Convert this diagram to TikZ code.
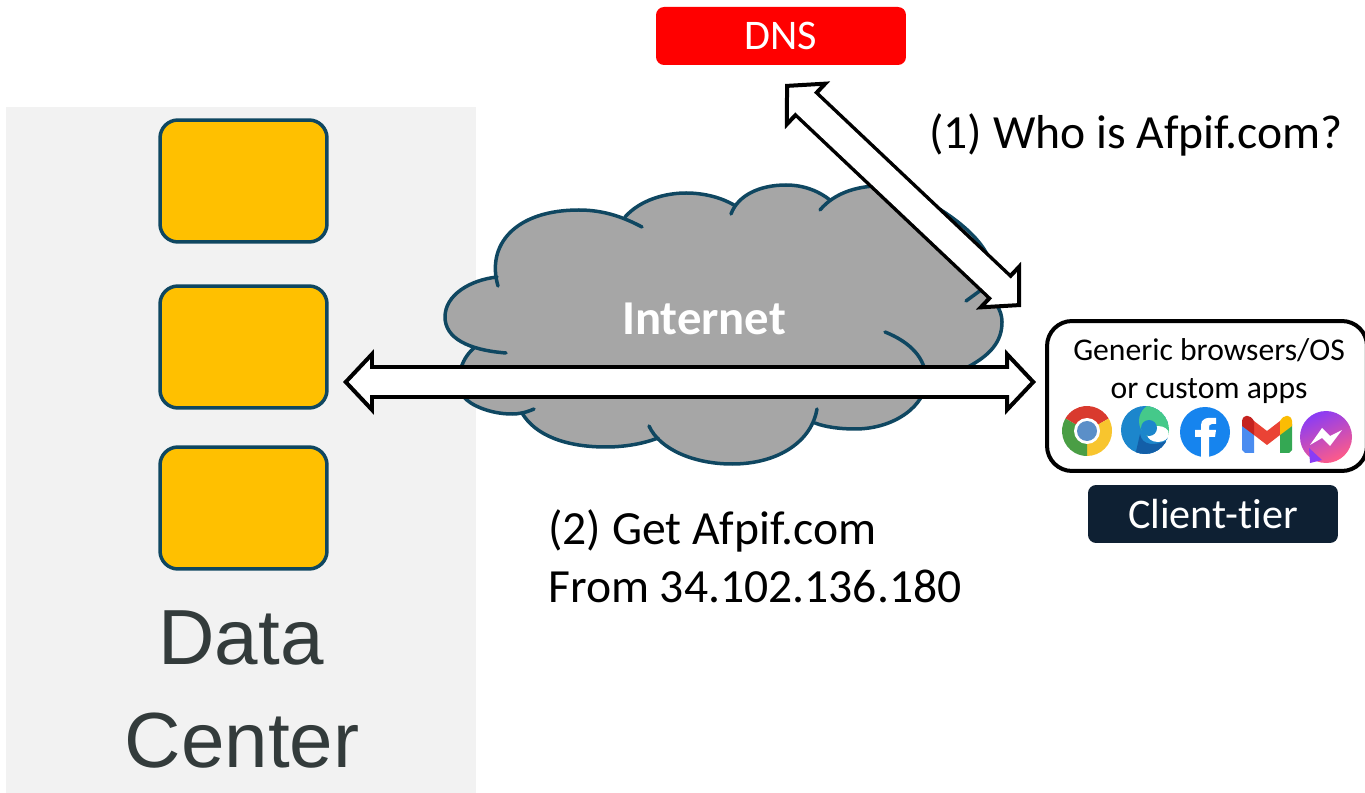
\documentclass[tikz,border=0pt]{standalone}
\usepackage{fontspec}
\setmainfont{Carlito}[Ligatures=CommonOff]
\newfontfamily\panelfont{Liberation Sans}
\usepackage{xcolor}
\usetikzlibrary{positioning,arrows.meta,shadings}

\definecolor{tealline}{HTML}{0F4761}
\definecolor{serverfill}{HTML}{FFC000}
\definecolor{navybox}{HTML}{0E2033}
\definecolor{cloudfill}{HTML}{A6A6A6}
\definecolor{panelfill}{HTML}{F2F2F2}
\definecolor{paneltext}{HTML}{333B3B}
\definecolor{chromered}{HTML}{D93A2E}
\definecolor{chromeyellow}{HTML}{F8C52E}
\definecolor{chromegreen}{HTML}{4A9E45}
\definecolor{chromeblue}{HTML}{5B8FC8}
\definecolor{edgeblue}{HTML}{1C86CC}
\definecolor{edgedark}{HTML}{135FA8}
\definecolor{edgegreen}{HTML}{45C98A}
\definecolor{fbblue}{HTML}{1684EE}
\definecolor{gmailblue}{HTML}{4A8CF0}
\definecolor{gmailgreen}{HTML}{34A853}
\definecolor{gmailred}{HTML}{EA4335}
\definecolor{gmaildark}{HTML}{C5221F}
\definecolor{gmailyellow}{HTML}{FBBC04}
\definecolor{msgblue}{HTML}{8A3CF5}
\definecolor{msgpink}{HTML}{FF5C87}

\newcommand{\cloudlobes}{
  {(506,353) .. controls (468,350) and (445,338) .. (445,317) .. controls (445,295) and (470,280) .. (497,277)},
  {(498,286) .. controls (486,245) and (515,210) .. (579,210) .. controls (605,210) and (625,218) .. (642,227)},
  {(625,217) .. controls (640,200) and (665,193) .. (686,193) .. controls (705,193) and (722,198) .. (734,205)},
  {(731,214) .. controls (738,195) and (760,185) .. (786,185) .. controls (805,185) and (820,192) .. (830,200)},
  {(820,210) .. controls (835,192) and (860,185) .. (885,186) .. controls (925,194) and (982,232) .. (990,262)},
  {(966,301) -- (981,290) .. controls (995,300) and (1002,310) .. (1002,322) .. controls (1002,342) and (990,355) .. (968,367)},
  {(885,332) .. controls (910,342) and (926,358) .. (926,380) .. controls (926,405) and (895,429) .. (855,429) .. controls (840,429) and (825,427) .. (815,423)},
  {(817,409) .. controls (812,440) and (780,464) .. (732,464) .. controls (695,464) and (660,450) .. (649,426)},
  {(658,438) .. controls (640,445) and (620,447) .. (606,447) .. controls (565,447) and (535,435) .. (522,413)},
  {(534,409) .. controls (525,413) and (518,414) .. (512,414) .. controls (490,414) and (470,405) .. (464,397) .. controls (455,380) and (460,360) .. (474,348)}}

\begin{document}
\begin{tikzpicture}[
  x=0.02cm, y=-0.02cm,
  panel/.style={fill=panelfill, minimum width=9.4cm, minimum height=13.72cm, inner sep=0},
  server/.style={draw=tealline, line width=0.07cm, fill=serverfill, rounded corners=0.36cm, minimum width=3.34cm, minimum height=2.44cm, inner sep=0},
  tag/.style={rounded corners=0.16cm, minimum width=5cm, minimum height=1.16cm, inner sep=0, text=white, font=\fontsize{24}{28}\selectfont},
  blockline/.style={draw=black, line width=0.68cm, {Triangle[length=0.62cm, width=1.3cm, line width=0.08cm, fill=white]}-{Triangle[length=0.62cm, width=1.3cm, line width=0.08cm, fill=white]}},
  blockcore/.style={draw=white, line width=0.54cm, shorten <=0.5cm, shorten >=0.5cm},
  lobe/.style={draw=tealline, line width=0.07cm, line cap=round},
  caption/.style={anchor=base west, inner sep=0, font=\fontsize{27.1}{32}\selectfont}
]
\useasboundingbox (0,0) rectangle (1365,793);

% Data center panel
\node[panel] (center) at (241,450) {};
\node[server] (srv1) at (243.5,181) {};
\node[server] (srv2) at (243.5,347) {};
\node[server] (srv3) at (243.5,508) {};
\node[anchor=base, inner sep=0, text=paneltext, font=\panelfont\fontsize{44.5}{50}\selectfont] (datalabel) at (241,664) {Data};
\node[anchor=base, inner sep=0, text=paneltext, font=\panelfont\fontsize{44.5}{50}\selectfont] (centerlabel) at (242,767) {Center};

% Cloud
\filldraw[cloudfill, line width=0.04cm] (474,348) -- (497,277) -- (625,217) -- (734,205) -- (830,200) -- (885,186) -- (990,262)
  -- (981,290) -- (968,367) -- (926,380) -- (815,423) -- (658,438) -- (522,413) -- (464,397) -- cycle;
\foreach \lobepath in \cloudlobes
  \fill[cloudfill] \lobepath -- cycle;
\foreach \lobepath in \cloudlobes
  \draw[lobe] \lobepath;
\node[inner sep=0, text=white, font=\bfseries\fontsize{27.7}{32}\selectfont] (internet) at (704,319) {Internet};

% DNS and client
\node[tag, fill=red] (dns) at (781,36) {DNS};
\node[draw=black, line width=0.08cm, rounded corners=0.5cm, minimum width=6.4cm, minimum height=3cm, inner sep=0] (client) at (1207,396) {};
\node[inner sep=0, font=\fontsize{18}{20}\selectfont] (clienttext) at (1209,350) {Generic browsers/OS};
\node[inner sep=0, font=\fontsize{18}{20}\selectfont, below=0.33cm of clienttext] (clientapps) {or custom apps};
\node[tag, fill=navybox] (tier) at (1213,514) {Client-tier};

% Chrome
\coordinate (chrome) at (1087,431);
\foreach \a/\b/\c in {30/150/chromered, -90/30/chromeyellow, 150/270/chromegreen}
  \fill[\c] (chrome) -- ++(\a:0.5cm) arc[start angle=\a, end angle=\b, radius=0.5cm] -- cycle;
\fill[white] (chrome) circle (13);
\fill[chromeblue] (chrome) circle (10);

% Edge
\begin{scope}
  \clip (1145,430) circle (24);
  \fill[edgeblue] (1145,430) circle (24);
  \fill[edgegreen] (1157,421) circle (18);
  \fill[white] (1158,434) ellipse (11 and 8);
  \fill[edgeblue] (1149,428) circle (8);
  \fill[edgedark] (1140,434) .. controls (1142,446) and (1155,446) .. (1169,440) -- (1160,456) -- (1135,456) -- cycle;
\end{scope}

% Facebook
\fill[fbblue] (1205,432) circle (25);
\fill[white] (1201,457) -- (1201,437) -- (1195,437) -- (1195,430) -- (1201,430) -- (1201,425)
  .. controls (1201,419) and (1206,417) .. (1216,418) -- (1216,424) -- (1212,424)
  .. controls (1209,424) and (1209,426) .. (1209,428) -- (1209,430) -- (1216,430)
  -- (1215,437) -- (1209,437) -- (1209,457) -- cycle;

% Gmail
\fill[gmailblue] (1242,424) -- (1254,432) -- (1254,453) -- (1245,453) -- (1242,450) -- cycle;
\fill[gmailgreen] (1292,424) -- (1280,432) -- (1280,453) -- (1289,453) -- (1292,450) -- cycle;
\fill[gmailred] (1254,421) -- (1267,431) -- (1280,421) -- (1280,435) -- (1267,445) -- (1254,435) -- cycle;
\fill[gmaildark] (1242,426) -- (1242,421) .. controls (1243,414) and (1250,414) .. (1254,421) -- (1254,435) -- cycle;
\fill[gmailyellow] (1292,426) -- (1292,421) .. controls (1291,414) and (1284,414) .. (1280,421) -- (1280,435) -- cycle;

% Messenger
\shade[left color=msgblue, right color=msgpink, shading angle=25] (1326,437) circle (26);
\fill[msgblue] (1309,448) -- (1310,463) -- (1322,460) -- cycle;
\fill[white] (1310,445) -- (1322,428) -- (1330,436) -- (1342,430) -- (1330,446) -- (1322,438) -- cycle;

% Labels
\node[caption] (whois) at (929,149) {(1) Who is Afpif.com?};
\node[caption] (getsite) at (548,544) {(2) Get Afpif.com};
\node[caption] (fromip) at (548,602) {From 34.102.136.180};

% Block arrows
\coordinate (dnsend) at (785,84);
\coordinate (clientend) at (1021,307);
\coordinate (centerend) at (343,382);
\coordinate (clientside) at (1036,382);
\draw[blockline] (dnsend) -- (clientend);
\draw[blockcore] (dnsend) -- (clientend);
\draw[blockline] (centerend) -- (clientside);
\draw[blockcore] (centerend) -- (clientside);

\end{tikzpicture}
\end{document}
